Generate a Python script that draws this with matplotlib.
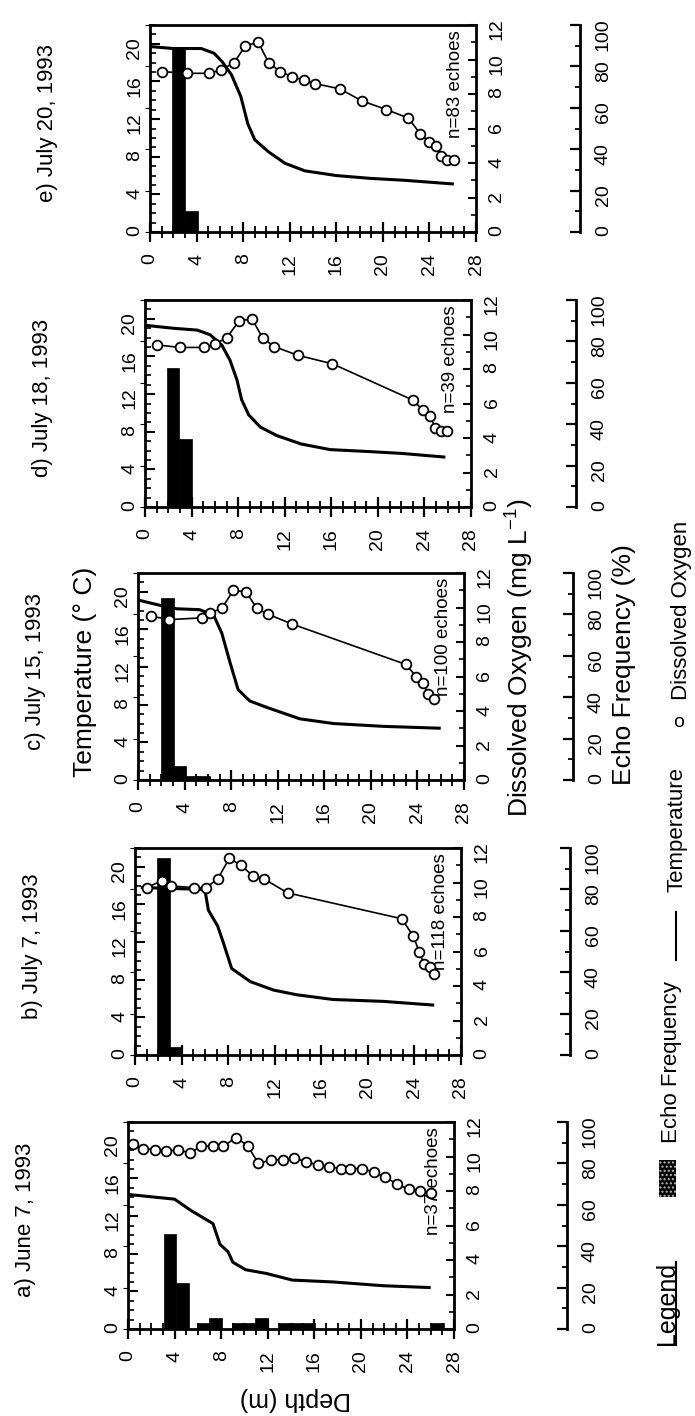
import matplotlib
matplotlib.use('Agg')
import matplotlib.pyplot as plt
from matplotlib.ticker import MultipleLocator
from matplotlib.patches import Rectangle
from matplotlib.lines import Line2D

plt.rcParams['font.family'] = ['Liberation Sans', 'DejaVu Sans']

# ---- data (depth in m, temperature in deg C, DO in mg/L, echoes in %) ----
titles = ['a) June 7, 1993', 'b) July 7, 1993', 'c) July 15, 1993',
          'd) July 18, 1993', 'e) July 20, 1993']
n_labels = ['n=37 echoes', 'n=118 echoes', 'n=100 echoes',
            'n=39 echoes', 'n=83 echoes']

temp_depth_a = [0, 4.0, 5.4, 7.3, 7.9, 8.6, 9.0, 10.1, 11.9, 14.1, 17.6, 21.9, 26.0]
temp_a = [14.3, 13.8, 12.6, 11.2, 9.0, 8.2, 7.1, 6.3, 5.9, 5.2, 5.0, 4.6, 4.4]
do_depth_a = [0.4, 1.3, 2.3, 3.3, 4.3, 5.3, 6.3, 7.3, 8.2, 9.3, 10.3, 11.2, 12.3, 13.3,
              14.3, 15.3, 16.3, 17.3, 18.3, 19.1, 20.1, 21.1, 22.1, 23.1, 24.1, 25.1, 26.0]
do_a = [10.7, 10.45, 10.4, 10.3, 10.4, 10.2, 10.6, 10.6, 10.6, 11.1, 10.6, 9.6, 9.8, 9.8,
        9.9, 9.7, 9.5, 9.4, 9.3, 9.3, 9.3, 9.1, 8.8, 8.4, 8.1, 8.0, 7.9]
echo_depth_a = [3.6, 4.7, 6.5, 7.5, 9.5, 10.5, 11.5, 13.5, 14.5, 15.5, 26.6]
echo_a = [46, 22, 2.7, 5.4, 2.7, 2.7, 5.4, 2.7, 2.7, 2.7, 2.7]

temp_depth_b = [0.5, 3.0, 6.0, 6.3, 7.1, 7.6, 8.3, 9.9, 11.9, 13.9, 17.0, 21.3, 25.7]
temp_b = [17.8, 17.7, 17.6, 15.4, 13.7, 11.9, 9.2, 7.8, 6.9, 6.4, 5.9, 5.7, 5.3]
do_depth_b = [1.0, 2.3, 3.1, 5.1, 6.1, 7.1, 8.1, 9.1, 10.1, 11.1, 13.1,
              22.9, 23.9, 24.4, 24.8, 25.3, 25.7]
do_b = [9.7, 10.1, 9.8, 9.7, 9.7, 10.2, 11.4, 11.0, 10.4, 10.2, 9.4,
        7.9, 6.9, 6.0, 5.3, 5.1, 4.7]
echo_depth_b = [2.45, 3.5]
echo_b = [95, 4]

temp_depth_c = [0.1, 2.1, 3.3, 5.3, 6.5, 7.2, 7.9, 8.6, 9.6, 11.1, 13.9, 16.8, 21.1, 26.0]
temp_c = [19.1, 18.5, 18.2, 18.1, 17.5, 15.6, 12.5, 9.6, 8.4, 7.7, 6.5, 6.0, 5.7, 5.5]
do_depth_c = [1.1, 2.7, 5.5, 6.2, 7.2, 8.2, 9.3, 10.2, 11.2, 13.2, 23.0, 23.9, 24.5, 24.9, 25.4]
do_c = [9.5, 9.3, 9.4, 9.7, 9.95, 11.0, 10.9, 9.95, 9.6, 9.05, 6.7, 6.0, 5.6, 5.0, 4.7]
echo_depth_c = [2.5, 3.6, 4.6, 5.6]
echo_c = [88, 7, 2, 2]

temp_depth_d = [0.1, 2.4, 4.5, 5.6, 6.6, 7.3, 7.9, 8.3, 8.9, 9.9, 11.3, 13.4, 15.9, 19.1, 22.0, 25.8]
temp_d = [19.3, 19.0, 18.8, 18.3, 17.2, 15.6, 13.5, 11.4, 9.8, 8.5, 7.6, 6.7, 6.1, 5.9, 5.7, 5.3]
do_depth_d = [1.0, 3.0, 5.1, 6.0, 7.0, 8.1, 9.2, 10.1, 11.1, 13.1, 16.1,
              23.0, 23.9, 24.5, 24.9, 25.4, 25.9]
do_d = [9.4, 9.25, 9.25, 9.45, 9.8, 10.8, 10.9, 9.8, 9.3, 8.8, 8.3,
        6.2, 5.6, 5.3, 4.6, 4.4, 4.4]
echo_depth_d = [2.4, 3.5]
echo_d = [67, 33]

temp_depth_e = [0.1, 2.0, 4.4, 5.5, 6.2, 7.0, 7.8, 8.4, 9.0, 10.2, 11.6, 13.3, 16.0, 18.9, 21.8, 26.1]
temp_e = [19.7, 19.5, 19.5, 19.0, 18.1, 16.7, 14.4, 11.5, 9.8, 8.5, 7.3, 6.5, 6.0, 5.7, 5.5, 5.1]
do_depth_e = [1.0, 3.2, 5.1, 6.1, 7.2, 8.2, 9.3, 10.2, 11.2, 12.2, 13.2, 14.2, 16.3, 18.2,
              20.3, 22.2, 23.2, 24.0, 24.6, 25.0, 25.5, 26.1]
do_e = [9.3, 9.2, 9.2, 9.4, 9.8, 10.8, 11.0, 9.8, 9.3, 9.0, 8.8, 8.6, 8.3, 7.6,
        7.1, 6.6, 5.7, 5.2, 5.0, 4.4, 4.2, 4.2]
echo_depth_e = [2.45, 3.55]
echo_e = [89, 10]

temp_depths = [temp_depth_a, temp_depth_b, temp_depth_c, temp_depth_d, temp_depth_e]
temps = [temp_a, temp_b, temp_c, temp_d, temp_e]
do_depths = [do_depth_a, do_depth_b, do_depth_c, do_depth_d, do_depth_e]
dos = [do_a, do_b, do_c, do_d, do_e]
echo_depths = [echo_depth_a, echo_depth_b, echo_depth_c, echo_depth_d, echo_depth_e]
echoes = [echo_a, echo_b, echo_c, echo_d, echo_e]

# ---- layout (the page is printed rotated, so everything is drawn sideways) ----
W, H = 695, 1416
FW, FH = 326, 207
frame_left = [128, 135, 138, 145, 150]
frame_top = [1122, 848, 573, 300, 25]
scale_x = [567, 570, 573, 576, 580]


def fx(x):
    return x / W


def fy(y):
    return 1 - y / H


def rect(left, top, w, h):
    return [fx(left), fy(top + h), w / W, h / H]


fig = plt.figure(figsize=(W / 100, H / 100), dpi=100)

for i in range(5):
    left, top = frame_left[i], frame_top[i]

    ax = fig.add_axes(rect(left, top, FW, FH))
    ax.bar(echo_depths[i], echoes[i], width=1.1, color='black',
           edgecolor='black', linewidth=0.5)
    ax.set_xlim(0, 28)
    ax.set_ylim(0, 100)
    ax.xaxis.set_major_locator(MultipleLocator(4))
    ax.xaxis.set_minor_locator(MultipleLocator(1))
    ax.tick_params(axis='x', which='major', direction='inout', length=14, width=1.6,
                   labelsize=14, pad=8.5, labelrotation=90)
    ax.tick_params(axis='x', which='minor', direction='inout', length=8.5, width=1.3)
    ax.tick_params(axis='y', which='both', left=False, labelleft=False)
    for s in ax.spines.values():
        s.set_linewidth(2)
    ax.text(26.2, 97.5, n_labels[i], rotation=90, ha='center', va='top', fontsize=13.5)

    at = ax.twinx()
    at.yaxis.tick_left()
    at.set_ylim(0, 22)
    at.plot(temp_depths[i], temps[i], color='black', lw=2.2, solid_capstyle='butt')
    at.yaxis.set_major_locator(MultipleLocator(4))
    at.yaxis.set_minor_locator(MultipleLocator(1))
    at.tick_params(axis='y', which='major', direction='in', length=7, width=1.5,
                   labelsize=14, pad=5, labelrotation=90)
    at.tick_params(axis='y', which='minor', direction='in', length=4, width=1.2)
    at.set_ylim(0, 22)

    ao = ax.twinx()
    ao.set_ylim(0, 12)
    ao.plot(do_depths[i], dos[i], color='black', lw=1.2, marker='o', ms=7,
            mfc='white', mec='black', mew=1.3)
    ao.yaxis.set_major_locator(MultipleLocator(2))
    ao.yaxis.set_minor_locator(MultipleLocator(1))
    ao.tick_params(axis='y', which='major', direction='in', length=6, width=1.5,
                   labelsize=14, pad=9, labelrotation=90)
    ao.tick_params(axis='y', which='minor', direction='in', length=3.5, width=1.2)
    ao.set_ylim(0, 12)
    for a2 in (at, ao):
        for s in a2.spines.values():
            s.set_visible(False)

    # separate echo frequency scale
    es = fig.add_axes(rect(scale_x[i], top, 1, FH))
    es.patch.set_visible(False)
    for k in ('top', 'right', 'bottom'):
        es.spines[k].set_visible(False)
    es.spines['left'].set_linewidth(2)
    es.set_xticks([])
    es.set_ylim(0, 100)
    es.yaxis.set_major_locator(MultipleLocator(20))
    es.yaxis.set_minor_locator(MultipleLocator(10))
    es.tick_params(axis='y', which='both', left=True, right=False,
                   labelleft=False, labelright=True, direction='out')
    es.tick_params(axis='y', which='major', length=7, width=1.6, labelsize=14,
                   pad=3, labelrotation=90)
    es.tick_params(axis='y', which='minor', length=3.5, width=1.3)
    es.set_ylim(0, 100)

    fig.text(fx(left - 102), fy(top + 98), titles[i], rotation=90,
             ha='center', va='center', fontsize=16)

# axis labels (shown once, on panel c and panel a)
fig.text(fx(85), fy(672), 'Temperature (\u00b0 C)', rotation=90,
         ha='center', va='center', fontsize=19)
fig.text(fx(519), fy(658), r'Dissolved Oxygen (mg L$^{\mathregular{-1}}$)', rotation=90,
         ha='center', va='center', fontsize=19)
fig.text(fx(624), fy(665), 'Echo Frequency (%)', rotation=90,
         ha='center', va='center', fontsize=19)
fig.text(fx(295), fy(1399), 'Depth (m)', rotation=180,
         ha='center', va='center', fontsize=18)

# legend, written sideways along the right edge
leg = fig.text(fx(667), fy(1345), 'Legend', rotation=90, ha='center', va='bottom',
               fontsize=18)
fig.add_artist(Rectangle((fx(659), fy(1197)), 17 / W, 37 / H, transform=fig.transFigure,
                         facecolor='black', edgecolor='0.7', lw=0, hatch='....'))
fig.text(fx(672), fy(1143), 'Echo Frequency', rotation=90, ha='center', va='bottom',
         fontsize=16)
fig.add_artist(Line2D([fx(676), fx(676)], [fy(960), fy(912)], transform=fig.transFigure,
                      color='black', lw=1.5))
fig.text(fx(677), fy(767), 'Temperature', rotation=90, ha='center', va='top',
         fontsize=16)
fig.text(fx(679), fy(722), 'o', ha='center', va='center', fontsize=14)
fig.text(fx(681), fy(700), 'Dissolved Oxygen', rotation=90, ha='center', va='bottom',
         fontsize=16)

fig.canvas.draw()
bb = leg.get_window_extent().transformed(fig.transFigure.inverted())
fig.add_artist(Line2D([bb.x1 - 0.004, bb.x1 - 0.004], [bb.y0, bb.y1],
                      transform=fig.transFigure, color='black', lw=1.5))

fig.savefig('out.png', dpi=100)
